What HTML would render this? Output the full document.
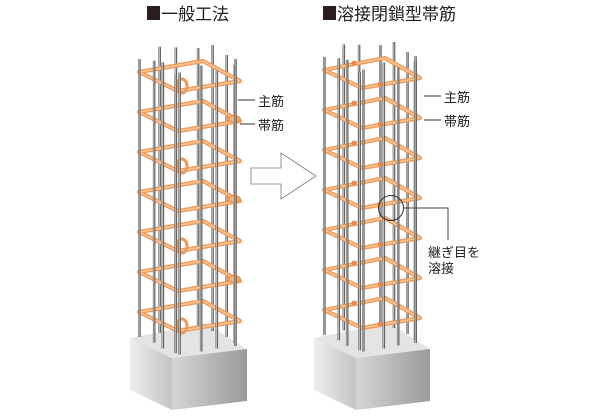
<!DOCTYPE html>
<html><head><meta charset="utf-8"><style>
html,body{margin:0;padding:0;background:#fff;}
svg{display:block;}
text{font-family:"Liberation Sans","Noto Sans CJK JP",sans-serif;fill:#222;}
</style></head><body>
<svg id="s" width="600" height="416" viewBox="0 0 600 416" xmlns="http://www.w3.org/2000/svg">
<defs>
<linearGradient id="gl" x1="0" x2="1" y1="0" y2="0"><stop offset="0" stop-color="#eee"/><stop offset="1" stop-color="#c4c4c4"/></linearGradient>
<linearGradient id="gf" x1="0" x2="1" y1="0" y2="0"><stop offset="0" stop-color="#d6d6d6"/><stop offset="1" stop-color="#9a9a9a"/></linearGradient>
</defs>
<g id="content"></g>
<rect x="147" y="6" width="13" height="14" fill="#2a1f1f"/>
<text x="161" y="20" font-size="17">一般工法</text>
<rect x="323" y="6" width="13" height="14" fill="#2a1f1f"/>
<text x="337" y="20" font-size="17">溶接閉鎖型帯筋</text>
<line x1="238" y1="100" x2="255" y2="100" stroke="#333" stroke-width="1"/>
<text x="258" y="106" font-size="13">主筋</text>
<line x1="240" y1="124" x2="255" y2="124" stroke="#333" stroke-width="1"/>
<text x="258" y="130" font-size="13">帯筋</text>
<line x1="424" y1="96" x2="441" y2="96" stroke="#333" stroke-width="1"/>
<text x="444" y="102" font-size="13">主筋</text>
<line x1="424" y1="120" x2="441" y2="120" stroke="#333" stroke-width="1"/>
<text x="444" y="126" font-size="13">帯筋</text>
<circle cx="391" cy="208" r="12.5" fill="none" stroke="#333" stroke-width="1"/>
<polyline points="404,208 448,208 448,240" fill="none" stroke="#444" stroke-width="1"/>
<text x="428" y="257" font-size="13">継ぎ目を</text>
<text x="428" y="273" font-size="13">溶接</text>
<polygon points="251,168 281,168 281,153 316,176 281,199 281,184 251,184" fill="#fff" stroke="#777" stroke-width="0.8"/>
</svg>
<script>
var g=document.getElementById('content');var NS='http://www.w3.org/2000/svg';
function el(t,a){var e=document.createElementNS(NS,t);for(var k in a)e.setAttribute(k,a[k]);g.appendChild(e);return e;}
function col(Lx,Ly,F,R,B,ft,hooks){
 var a=ft;
 el('polygon',{points:[a.L,a.F,a.R,a.B].map(p=>p.join(',')).join(' '),fill:'#e4e4e4'});
 el('polygon',{points:[a.L,a.F,[a.F[0],a.F[1]+52],[a.L[0],a.L[1]+52]].map(p=>p.join(',')).join(' '),fill:'url(#gl)'});
 el('polygon',{points:[a.F,a.R,[a.R[0],a.R[1]+52],[a.F[0],a.F[1]+52]].map(p=>p.join(',')).join(' '),fill:'url(#gf)'});
 var P=function(y){return {L:[Lx,y],F:[Lx+F[0],y+F[1]],R:[Lx+R[0],y+R[1]],B:[Lx+B[0],y+B[1]]};};
 var top=P(Ly);
 function lerp(p,q,t){return [p[0]+(q[0]-p[0])*t,p[1]+(q[1]-p[1])*t];}
 var back=[],front=[];
 [[top.R,top.B],[top.B,top.L]].forEach(function(e){[0.1,0.4,0.7].forEach(function(t){back.push(lerp(e[0],e[1],t));});});
 [[top.L,top.F],[top.F,top.R]].forEach(function(e){[0.05,0.35,0.65,0.9].forEach(function(t){front.push(lerp(e[0],e[1],t));});});
 front.push([top.R[0]-3,top.R[1]]);
 function bar(p,i){var x=p[0]+(i%2?1.5:-1.5),y1=p[1]-14-(i%3)*4,y2=p[1]+264;
  el('line',{x1:x,y1:y1,x2:x,y2:y2,stroke:'#666','stroke-width':2.6});
  el('line',{x1:x-0.3,y1:y1,x2:x-0.3,y2:y2,stroke:'#ccc','stroke-width':0.8});}
 back.forEach(bar);
 for(var i=0;i<7;i++){var r=P(Ly+i*40);
  var pts=[r.L,r.F,r.R,r.B].map(p=>p.join(',')).join(' ');
  el('polygon',{points:pts,fill:'none',stroke:'#ee9a5a','stroke-width':4.2,'stroke-linejoin':'round'});
  el('polygon',{points:pts,fill:'none',stroke:'#fbc89a','stroke-width':1.4,'stroke-linejoin':'round'});
  if(hooks){ if(i%2==0){el('ellipse',{cx:r.F[0]+4,cy:r.F[1]-5,rx:5,ry:7,fill:'none',stroke:'#ee9a5a','stroke-width':3});}
   else {el('ellipse',{cx:r.R[0]-6,cy:r.R[1]-2,rx:6,ry:3,fill:'#f6b27a',stroke:'#ee9a5a','stroke-width':2});}}
  else { el('circle',{cx:r.F[0]+18,cy:r.F[1]-4,r:2.5,fill:'#e8884a'}); el('circle',{cx:r.L[0]+30,cy:r.L[1]-7,r:2.5,fill:'#e8884a'});}
 }
 front.forEach(bar);
}
col(139,72,[39,19],[101,9],[64,-11],{L:[130,338],F:[172,358],R:[247,349],B:[205,323]},true);
col(324,70,[38,18],[96,8],[61,-12],{L:[314,338],F:[356,358],R:[430,349],B:[389,323]},false);
</script>
</body></html>
